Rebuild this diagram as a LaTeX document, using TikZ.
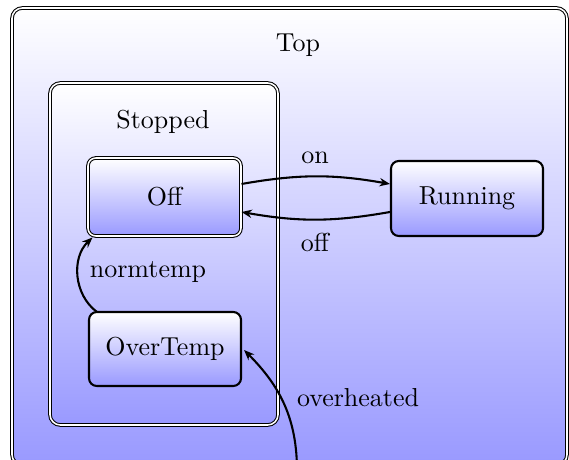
\documentclass[tikz,border=0pt]{standalone}
\usetikzlibrary{arrows.meta,calc,shapes.geometric}
\begin{document}
\begin{tikzpicture}[x=0.385pt,y=0.385pt,
  region/.style={draw,double,rounded corners=4pt,top color=white,bottom color=blue!40,inner sep=0pt},
  statebox/.style={draw,thick,rounded corners=3pt,top color=white,bottom color=blue!40,inner sep=0pt,minimum width=152*0.385pt},
  initbox/.style={draw,double,rounded corners=3pt,top color=white,bottom color=blue!40,inner sep=0pt,minimum width=153*0.385pt},
  trans/.style={thick,-{Stealth[length=4pt,width=3.2pt,inset=1.3pt]}},
  lbl/.style={inner sep=0pt}]
\useasboundingbox (0,0) rectangle (569,459);
\node[region,minimum width=555*0.385pt,minimum height=457*0.385pt] (top) at (289.5,222.5) {};
\node[lbl] (toplbl) at (298,414) {Top};
\node[region,minimum width=228*0.385pt,minimum height=342*0.385pt] (stopped) at (164,205) {};
\node[lbl] (stoppedlbl) at (163,337) {Stopped};
\node[initbox,minimum height=78*0.385pt] (off) at (164.5,262) {Off};
\node[statebox,minimum height=75*0.385pt] (running) at (467,260.5) {Running};
\node[statebox,minimum height=74*0.385pt] (overtemp) at (165,110) {OverTemp};
\coordinate (entry) at (297,-12);
\draw[trans] ($(off.east)+(0,13)$) to[bend left=10] ($(running.west)+(0,14.5)$);
\draw[trans] ($(running.west)+(0,-13.5)$) to[bend left=10] ($(off.east)+(0,-15)$);
\draw[trans] ($(overtemp.north west)+(9,-1)$) to[bend left=50] ($(off.south west)+(5,-1)$);
\draw[trans] (entry) to[out=90,in=-45] ($(overtemp.east)+(2,-1)$);
\node[lbl] (onlbl) at (315,301) {on};
\node[lbl] (offlbl) at (315,217) {off};
\node[lbl] (ntlbl) at (148,187) {normtemp};
\node[lbl] (ohlbl) at (358,61) {overheated};
\end{tikzpicture}
\end{document}
